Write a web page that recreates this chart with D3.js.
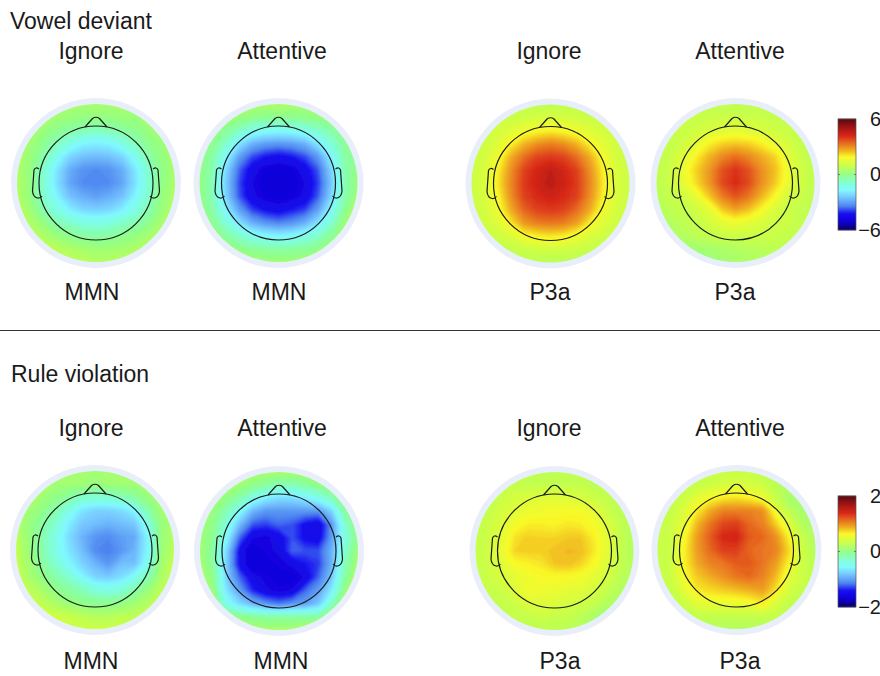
<!DOCTYPE html>
<html>
<head>
<meta charset="utf-8">
<script src="https://cdn.jsdelivr.net/npm/d3@7"></script>
<style>
  html, body { margin: 0; background: #fff; }
  svg { display: block; }
  text { font-family: "Liberation Sans", Arial, sans-serif; fill: #1a1a1a; }
</style>
</head>
<body>
<svg width="880" height="676"></svg>
<script>
// scalp values on a 13x13 grid (rows top to bottom, uV)
const vowelIgnoreMMN = [
  [.4,.4,.4,.4,.4,.4,.4,.4,.4,.4,.4,.4,.4],
  [.4,.4,.4,.3,.2,.1,.1,.1,.2,.2,.3,.4,.4],
  [.5,.4,.2,-.1,-.3,-.5,-.7,-.5,-.3,-.1,.2,.3,.4],
  [.5,.3,-.1,-.6,-1.2,-1.7,-1.8,-1.7,-1.2,-.6,-.1,.2,.4],
  [.5,.2,-.4,-1.4,-2.2,-2.5,-2.6,-2.5,-2.2,-1.4,-.4,.1,.4],
  [.5,.1,-.8,-1.9,-2.8,-3.2,-3.3,-3.2,-2.8,-1.9,-.8,0,.4],
  [.6,.1,-.9,-2,-2.9,-3.3,-3.4,-3.3,-2.9,-2,-.9,0,.5],
  [.6,.1,-.8,-1.7,-2.5,-2.8,-3,-2.8,-2.5,-1.7,-.8,.1,.5],
  [.7,.3,-.5,-1.2,-1.8,-2.2,-2.3,-2.2,-1.8,-1.2,-.5,.2,.6],
  [.8,.5,.1,-.5,-.8,-1.1,-1.2,-1.1,-.8,-.5,-.1,.4,.7],
  [1,.8,.5,.2,-.1,-.3,-.4,-.3,-.1,.1,.4,.6,.8],
  [1.1,1,.9,.7,.5,.4,.3,.3,.4,.5,.6,.7,.8],
  [1,1,1,1,.8,.7,.6,.6,.6,.7,.7,.7,.7]
];
const vowelAttentiveMMN = [
  [.5,.5,.5,.5,.5,.5,.5,.5,.4,.4,.4,.4,.4],
  [.5,.4,.3,.2,0,-.1,-.1,-.1,0,.1,.2,.3,.3],
  [.3,.1,-.2,-.7,-1.2,-1.4,-1.5,-1.4,-1.2,-.8,-.4,0,.2],
  [.2,-.1,-.8,-1.9,-2.7,-3,-3.1,-3,-2.7,-1.9,-1,-.2,.1],
  [.1,-.4,-1.5,-3,-3.8,-4.2,-4.4,-4.2,-3.8,-3.1,-1.7,-.4,0],
  [.1,-.5,-2.1,-3.6,-4.5,-4.9,-5,-4.9,-4.5,-3.7,-2.2,-.5,.1],
  [.1,-.6,-2.3,-3.8,-4.7,-5,-5.1,-5,-4.7,-3.9,-2.4,-.6,.2],
  [.1,-.6,-2.2,-3.7,-4.6,-4.9,-5,-4.9,-4.6,-3.7,-2.2,-.5,.3],
  [.1,-.4,-1.7,-3,-3.9,-4.3,-4.5,-4.2,-3.9,-3,-1.6,-.2,.6],
  [.2,-.1,-1,-2,-2.8,-3.2,-3.4,-3.2,-2.8,-2,-.9,.2,.8],
  [.3,.2,-.3,-.8,-1.3,-1.6,-1.7,-1.6,-1.3,-.8,-.2,.4,.8],
  [.5,.4,.2,0,-.2,-.3,-.4,-.3,-.2,0,.3,.5,.7],
  [.5,.5,.5,.4,.4,.3,.3,.3,.3,.4,.5,.6,.7]
];
const vowelIgnoreP3a = [
  [.8,.8,.8,.8,.8,.8,.8,.8,.8,.8,.8,.8,.8],
  [.9,.9,1,1,1.1,1.2,1.3,1.2,1.1,1,1,.9,.8],
  [.9,1,1.2,1.4,1.7,1.9,2,1.9,1.7,1.4,1.2,1,.9],
  [.9,1.1,1.4,2,2.6,3,3.2,3,2.6,2,1.5,1.1,.9],
  [1,1.2,1.7,2.7,3.4,3.9,4,3.9,3.4,2.7,1.8,1.2,.9],
  [1,1.3,2,3,3.9,4.3,4.6,4.3,3.9,3,2,1.3,1],
  [1,1.3,2.1,3.1,4,4.4,4.7,4.4,4,3.1,2.1,1.3,1],
  [1,1.3,1.9,3,3.9,4.2,4.4,4.2,3.9,3,2,1.3,1],
  [1,1.2,1.7,2.7,3.5,3.9,4,3.9,3.4,2.7,1.7,1.2,1],
  [.9,1.1,1.4,2.1,2.9,3.2,3.3,3.2,2.8,2,1.4,1.1,.9],
  [.8,.9,1.1,1.3,1.8,2,2.1,2,1.7,1.3,1.1,.9,.8],
  [.7,.7,.8,.9,1,1.1,1.1,1.1,1,.9,.8,.7,.7],
  [.7,.7,.7,.7,.7,.7,.7,.7,.7,.7,.7,.7,.7]
];
const vowelAttentiveP3a = [
  [.8,.8,.8,.8,.8,.8,.8,.8,.8,.7,.7,.7,.7],
  [.8,.8,.9,1,1,1,1,1,1,.9,.8,.7,.7],
  [.8,.9,1,1.1,1.3,1.4,1.5,1.4,1.3,1.1,1,.8,.7],
  [.8,.9,1.1,1.5,2,2.3,2.4,2.3,2,1.6,1.2,.9,.7],
  [.7,1,1.4,2,2.6,3.1,3.4,3.1,2.7,2.3,1.5,1,.7],
  [.8,1,1.6,2.3,2.9,3.7,4.1,3.7,3,2.5,1.7,1.1,.8],
  [.8,1,1.5,2.2,2.9,3.8,4.2,3.8,3,2.4,1.6,1.1,.8],
  [.7,.9,1.1,1.6,2.4,3.2,3.7,3.3,2.6,1.9,1.2,1,.8],
  [.6,.8,.9,1.1,1.5,2.4,2.8,2.5,1.9,1.3,1,.9,.7],
  [.4,.6,.8,.9,1.2,1.5,1.7,1.5,1.3,1.1,1,.9,.7],
  [.3,.5,.6,.8,.9,1,1,1,1,1,.9,.8,.7],
  [.2,.3,.3,.3,.4,.5,.6,.7,.7,.8,.7,.7,.7],
  [.3,.2,.2,.2,.2,.3,.4,.5,.6,.7,.7,.7,.7]
];
const ruleIgnoreMMN = [
  [.2,.2,.2,.15,.15,.15,.1,.1,.1,.1,.1,.15,.15],
  [.2,.2,.15,.1,.1,.1,.05,.1,.1,.1,.1,.1,.15],
  [.2,.15,.1,0,-.1,-.25,-.3,-.3,-.2,-.1,.05,.1,.15],
  [.2,.1,0,-.15,-.4,-.65,-.75,-.75,-.7,-.55,-.15,.1,.15],
  [.2,.05,-.1,-.3,-.6,-.8,-.85,-.9,-.85,-.8,-.4,.05,.15],
  [.25,.05,-.15,-.4,-.7,-.9,-1.05,-1.1,-1,-.95,-.55,.05,.2],
  [.3,.05,-.15,-.4,-.65,-.85,-1.1,-1.15,-1.05,-.9,-.55,.05,.25],
  [.3,.1,-.1,-.3,-.55,-.75,-.9,-1.05,-.85,-.85,-.45,.1,.3],
  [.3,.15,0,-.15,-.3,-.55,-.75,-.8,-.7,-.5,-.2,.15,.3],
  [.35,.25,.15,0,-.1,-.2,-.35,-.4,-.35,-.15,.05,.25,.3],
  [.45,.35,.25,.15,.05,0,-.05,-.05,0,.1,.2,.3,.35],
  [.5,.45,.4,.35,.3,.25,.2,.2,.25,.25,.3,.35,.35],
  [.5,.5,.45,.4,.4,.35,.35,.35,.35,.35,.35,.35,.4]
];
const ruleAttentiveMMN = [
  [.2,.2,.2,.2,.15,.15,.15,.15,.15,.15,.2,.2,.2],
  [.2,.2,.2,.1,0,-.1,-.2,-.2,-.1,0,.1,.15,.2],
  [.2,.15,0,-.15,-.4,-.6,-.7,-.7,-.6,-.45,-.2,.05,.15],
  [.15,.05,-.2,-.5,-.9,-1.05,-1.05,-1.05,-1.05,-1.05,-.75,-.1,.1],
  [.1,0,-.35,-.85,-1.25,-1.3,-1.2,-1.25,-1.45,-1.55,-1.05,-.3,.05],
  [.1,-.05,-.5,-1.2,-1.55,-1.6,-1.5,-1.25,-1.45,-1.5,-1,-.4,.05],
  [.1,-.1,-.7,-1.45,-1.7,-1.6,-1.55,-1.2,-1.25,-1.25,-.9,-.3,.1],
  [.15,-.1,-.75,-1.45,-1.7,-1.65,-1.6,-1.55,-1.4,-1.3,-.9,-.2,.15],
  [.15,0,-.75,-1.2,-1.5,-1.6,-1.65,-1.65,-1.55,-1.2,-.8,-.1,.2],
  [.2,.05,-.65,-1,-1.35,-1.55,-1.6,-1.55,-1.2,-1,-.6,.05,.25],
  [.25,.15,-.45,-.7,-.9,-1.05,-1.15,-1.05,-1,-.8,-.25,.2,.3],
  [.3,.25,.15,0,-.05,-.1,-.1,-.1,-.1,-.1,.15,.25,.3],
  [.3,.25,.25,.2,.15,.15,.15,.15,.2,.2,.25,.3,.3]
];
const ruleIgnoreP3a = [
  [.25,.25,.25,.25,.25,.25,.25,.25,.25,.25,.2,.2,.2],
  [.25,.25,.3,.3,.3,.3,.3,.3,.3,.25,.25,.2,.2],
  [.25,.3,.35,.4,.45,.48,.5,.48,.42,.35,.3,.2,.2],
  [.25,.3,.4,.5,.56,.58,.6,.62,.62,.52,.35,.25,.2],
  [.3,.35,.45,.6,.68,.68,.66,.7,.68,.62,.45,.3,.2],
  [.3,.35,.5,.72,.78,.76,.76,.8,.8,.68,.5,.3,.2],
  [.3,.38,.55,.76,.78,.78,.82,.85,.84,.7,.5,.3,.2],
  [.3,.35,.48,.62,.66,.7,.8,.82,.76,.62,.45,.3,.2],
  [.3,.35,.42,.5,.58,.62,.62,.62,.58,.5,.4,.25,.2],
  [.25,.3,.35,.45,.58,.56,.54,.5,.48,.4,.3,.2,.15],
  [.2,.25,.3,.35,.45,.45,.45,.4,.35,.3,.2,.15,.1],
  [.2,.2,.25,.3,.3,.35,.3,.3,.25,.15,.05,.05,.1],
  [.2,.2,.2,.25,.25,.25,.25,.25,.2,.15,.1,.1,.1]
];
const ruleAttentiveP3a = [
  [.3,.3,.3,.3,.3,.3,.3,.3,.25,.2,.1,.1,.1],
  [.3,.3,.3,.3,.35,.4,.45,.4,.35,.25,.15,.1,.1],
  [.3,.3,.35,.5,.6,.68,.7,.65,.55,.3,.15,.1,.1],
  [.3,.3,.45,.68,.9,1.05,1.05,1.05,1,.55,.25,.15,.1],
  [.3,.35,.5,.85,1.1,1.28,1.32,1.15,1.05,.78,.45,.2,.15],
  [.3,.35,.6,.95,1.2,1.42,1.45,1.2,1.15,1,.65,.3,.2],
  [.3,.35,.65,.95,1.15,1.32,1.32,1.15,1.1,1.05,.75,.35,.2],
  [.3,.35,.65,.9,1.05,1.1,1.2,1.2,1.1,.95,.65,.35,.25],
  [.3,.35,.6,.8,.9,1,1.1,1.15,1.05,.85,.5,.35,.25],
  [.3,.3,.5,.7,.75,.8,.85,.9,.95,.72,.4,.3,.25],
  [.25,.25,.35,.5,.55,.55,.55,.6,.7,.45,.3,.25,.2],
  [.2,.2,.25,.3,.3,.3,.3,.3,.3,.3,.25,.2,.2],
  [.2,.2,.2,.2,.2,.2,.2,.2,.2,.2,.2,.2,.2]
];

const rangeTop = 6;
const rangeBottom = 2;
const barTicksTop = [-6, 0, 6];
const barTicksBottom = [-2, 0, 2];
const colorStops = [0, .08, .15, .22, .30, .36, .42, .50, .58, .66, .72, .78, .85, .93, 1];
const colorValues = ["#0a0060", "#1000d8", "#1810f0", "#5088f0", "#78c8ff", "#80f8ff", "#80ffd8",
  "#90ff88", "#c8ff48", "#fafa28", "#f0b020", "#e87020", "#d82818", "#a01515", "#5a0a12"];

const fieldR = 79;
const haloR = 85;
const headR = 57;

const svg = d3.select("svg");
const defs = svg.append("defs");
defs.append("filter").attr("id", "soft")
  .attr("x", "-5%").attr("y", "-5%").attr("width", "110%").attr("height", "110%")
  .append("feGaussianBlur").attr("stdDeviation", 1);

const tScale = d3.scaleLinear().domain(colorStops).range(colorValues).clamp(true);

function drawMap(values, cx, cy, range, id) {
  const g = svg.append("g");
  const nx = values[0].length, ny = values.length;
  const x = d3.scaleLinear().domain([0.5, nx - 0.5]).range([cx - fieldR, cx + fieldR]);
  const y = d3.scaleLinear().domain([0.5, ny - 0.5]).range([cy - fieldR, cy + fieldR]);
  const color = v => tScale(0.5 + v / (2 * range));

  g.append("circle").attr("cx", cx).attr("cy", cy).attr("r", haloR).attr("fill", "#e9eefb");
  defs.append("clipPath").attr("id", id)
    .append("circle").attr("cx", cx).attr("cy", cy).attr("r", fieldR);

  const step = range / 48;
  const flat = values.flat();
  const thresholds = d3.range(d3.min(flat) - step, d3.max(flat) + step, step);
  const contours = d3.contours().size([nx, ny]).smooth(true).thresholds(thresholds)(flat);
  const path = d3.geoPath(d3.geoTransform({
    point(px, py) { this.stream.point(x(px), y(py)); }
  }));

  const field = g.append("g").attr("clip-path", `url(#${id})`).append("g").attr("filter", "url(#soft)");
  field.append("rect")
    .attr("x", cx - fieldR - 5).attr("y", cy - fieldR - 5)
    .attr("width", 2 * fieldR + 10).attr("height", 2 * fieldR + 10)
    .attr("fill", color(d3.min(flat)));
  field.selectAll("path").data(contours).join("path")
    .attr("d", path)
    .attr("fill", d => color(d.value + step / 2));

  // head outline
  const head = g.append("g").attr("transform", `translate(${cx},${cy})`)
    .attr("fill", "none").attr("stroke", "#1c1c1c").attr("stroke-width", 1.2);
  head.append("circle").attr("r", headR);
  head.append("path").attr("d", "M-11,-56 L-3.5,-64.5 Q0,-67 3.5,-64.5 L11,-56");
  head.append("path").attr("d", "M-57,-14 Q-60.5,-16.5 -62,-13 L-63.5,8 Q-63,14 -58.5,15 Q-56,15.5 -54,13");
  head.append("path").attr("d", "M57,-14 Q60.5,-16.5 62,-13 L63.5,8 Q63,14 58.5,15 Q56,15.5 54,13");
}

function drawBar(x0, y0, y1, range, ticks) {
  const w = 18;
  const y = d3.scaleLinear().domain([-range, range]).range([y1, y0]);
  const levels = d3.range(-range, range, range / 56);
  const g = svg.append("g");
  g.selectAll("rect").data(levels).join("rect")
    .attr("x", x0).attr("width", w)
    .attr("y", d => y(d + range / 56) - 0.3)
    .attr("height", y(-range) - y(-range + range / 56) + 0.6)
    .attr("fill", d => tScale(0.5 + (d + range / 112) / (2 * range)));
  g.append("rect").attr("x", x0).attr("y", y0).attr("width", w).attr("height", y1 - y0)
    .attr("fill", "none").attr("stroke", "#555").attr("stroke-width", 0.7);
  g.append("path").attr("d", `M${x0},${y(0)}h2M${x0 + w},${y(0)}h-2`).attr("stroke", "#555").attr("stroke-width", 0.7);

  const axis = svg.append("g").attr("transform", "translate(881,0)")
    .call(d3.axisLeft(y).tickValues(ticks).tickSize(0).tickPadding(0).tickFormat(d => d < 0 ? "\u2212" + Math.abs(d) : d));
  axis.select(".domain").remove();
  axis.selectAll("text")
    .style("font-family", '"Liberation Sans", Arial, sans-serif')
    .style("font-size", "20px").style("fill", "#1a1a1a");
}

function label(txt, x, y, anchor) {
  svg.append("text").attr("x", x).attr("y", y)
    .attr("text-anchor", anchor || "middle").attr("font-size", 23).text(txt);
}

drawMap(vowelIgnoreMMN, 96, 183, rangeTop, "m1");
drawMap(vowelAttentiveMMN, 278.5, 183, rangeTop, "m2");
drawMap(vowelIgnoreP3a, 550.5, 183.5, rangeTop, "m3");
drawMap(vowelAttentiveP3a, 735.5, 183, rangeTop, "m4");
drawMap(ruleIgnoreMMN, 95, 550, rangeBottom, "m5");
drawMap(ruleAttentiveMMN, 279, 551, rangeBottom, "m6");
drawMap(ruleIgnoreP3a, 554.5, 551, rangeBottom, "m7");
drawMap(ruleAttentiveP3a, 736.5, 550, rangeBottom, "m8");

drawBar(838, 119, 230, rangeTop, barTicksTop);
drawBar(838, 496, 607, rangeBottom, barTicksBottom);

svg.append("line").attr("x1", 0).attr("x2", 880).attr("y1", 330.5).attr("y2", 330.5)
  .attr("stroke", "#333").attr("stroke-width", 1);

label("Vowel deviant", 10, 29, "start");
label("Rule violation", 11, 382, "start");
[[ "Ignore", 91 ], [ "Attentive", 282 ], [ "Ignore", 549 ], [ "Attentive", 740 ]].forEach(d => {
  label(d[0], d[1], 59);
  label(d[0], d[1], 436);
});
[[ "MMN", 92, 300 ], [ "MMN", 279, 300 ], [ "P3a", 550, 300 ], [ "P3a", 735, 300 ],
 [ "MMN", 91, 669 ], [ "MMN", 281, 669 ], [ "P3a", 560, 669 ], [ "P3a", 740, 669 ]].forEach(d => label(d[0], d[1], d[2]));
</script>
</body>
</html>
